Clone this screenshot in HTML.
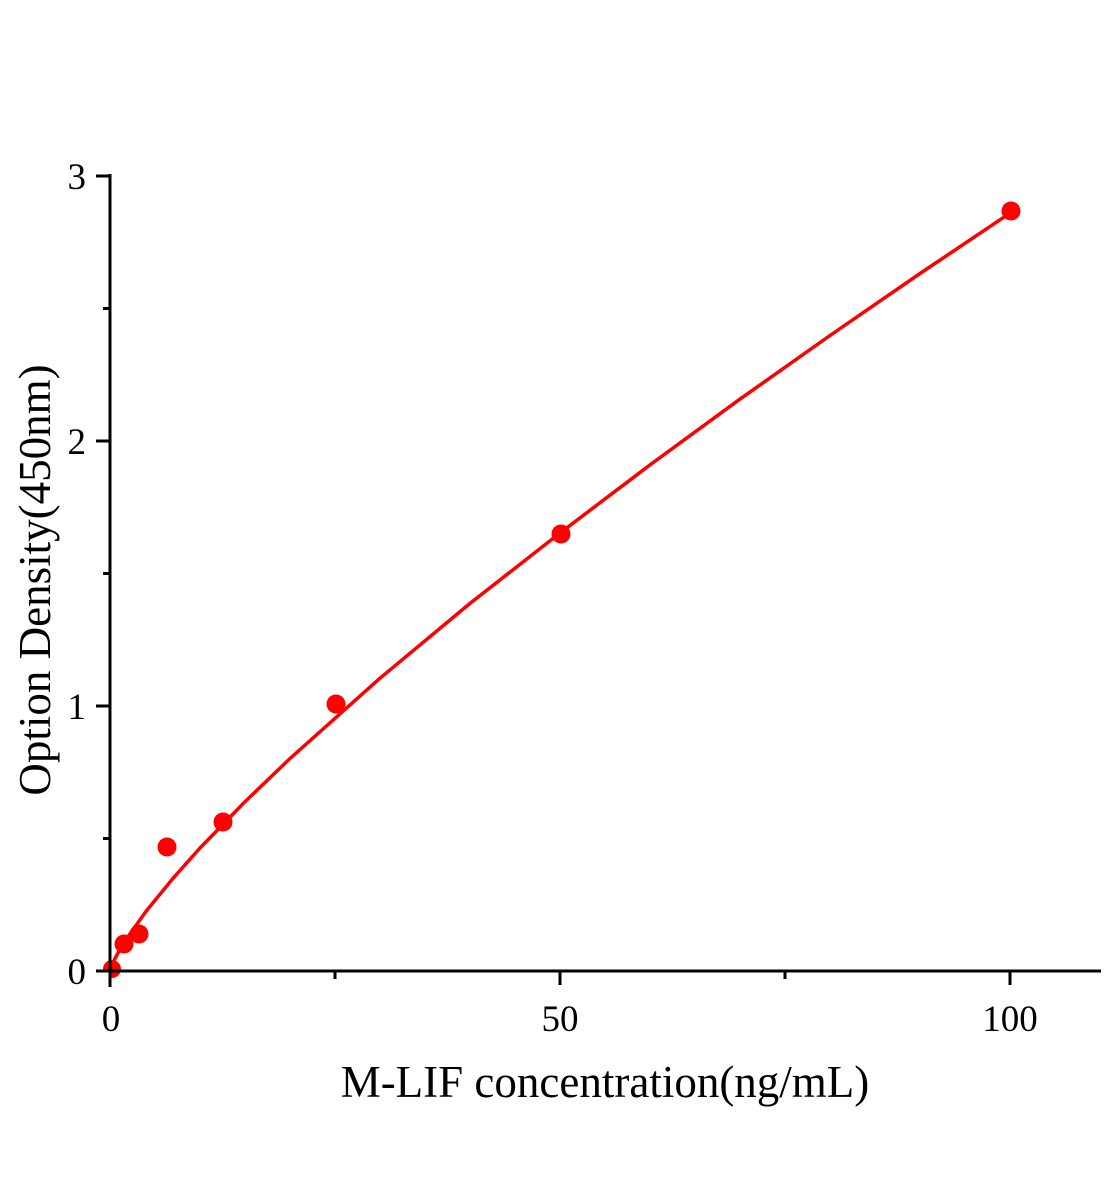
<!DOCTYPE html>
<html><head><meta charset="utf-8"><style>html,body{margin:0;padding:0;background:#fff}svg{display:block}</style></head>
<body>
<svg width="1104" height="1200" viewBox="0 0 1104 1200" xmlns="http://www.w3.org/2000/svg" font-family="Liberation Serif, serif">
<rect width="1104" height="1200" fill="#fff"/>
<circle cx="112" cy="969" r="9" fill="#f00"/>
<polyline fill="none" stroke="#f00" stroke-width="3.5" stroke-linejoin="round" points="110,971 114.5,959.5 119,951 128,936.6 146,911.4 173,878.3 200,848 245,801.7 290,758.5 380,678.2 470,603.4 560,533 650,464.9 740,399.1 830,335.5 920,273.5 1010,213.1"/>
<g fill="#f00">
<circle cx="124" cy="944" r="9.5"/>
<circle cx="139" cy="934" r="9.5"/>
<circle cx="167" cy="847" r="9.5"/>
<circle cx="223" cy="822" r="9.5"/>
<circle cx="336" cy="704" r="9.5"/>
<circle cx="561" cy="534" r="9.5"/>
<circle cx="1011" cy="211" r="9.5"/>
</g>
<rect x="100" y="972" width="10" height="10" fill="#fff"/>
<g stroke="#000" stroke-width="3" fill="none">
<line x1="110" y1="174" x2="110" y2="987"/>
<line x1="96" y1="971" x2="1101" y2="971"/>
<line x1="96" y1="176" x2="110" y2="176"/>
<line x1="96" y1="441" x2="110" y2="441"/>
<line x1="96" y1="706" x2="110" y2="706"/>
<line x1="103" y1="308.5" x2="110" y2="308.5"/>
<line x1="103" y1="573.5" x2="110" y2="573.5"/>
<line x1="103" y1="838.5" x2="110" y2="838.5"/>
<line x1="560" y1="971" x2="560" y2="985"/>
<line x1="1010" y1="971" x2="1010" y2="985"/>
<line x1="335" y1="971" x2="335" y2="979"/>
<line x1="785" y1="971" x2="785" y2="979"/>
</g>
<g font-size="37" fill="#000" text-anchor="end">
<text x="86" y="189">3</text>
<text x="86" y="454">2</text>
<text x="86" y="719">1</text>
<text x="86" y="984">0</text>
</g>
<g font-size="37" fill="#000" text-anchor="middle">
<text x="111" y="1031">0</text>
<text x="560" y="1031">50</text>
<text x="1010" y="1031">100</text>
</g>
<text x="605" y="1097" font-size="45" text-anchor="middle">M-LIF concentration(ng/mL)</text>
<text transform="translate(50,580) rotate(-90)" font-size="45" text-anchor="middle">Option Density(450nm)</text>
</svg>
</body></html>
